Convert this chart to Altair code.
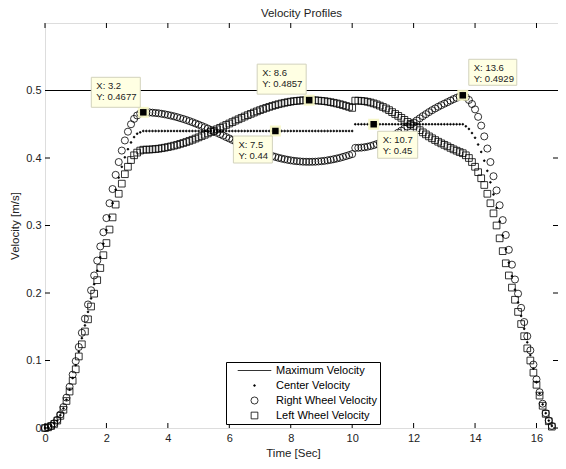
import altair as alt
import pandas as pd

# ---------------- data ----------------
# samples every 0.1 s from 0 to 16.5 s
time_s = [round(i * 0.1, 1) for i in range(166)]

# acceleration 0.0 .. 3.2 s
center_accel = [0.000, 0.001, 0.003, 0.007, 0.011, 0.019, 0.029, 0.042, 0.057, 0.074,
                0.093, 0.113, 0.133, 0.152, 0.172, 0.192, 0.213, 0.233, 0.253, 0.273,
                0.293, 0.313, 0.333, 0.353, 0.371, 0.387, 0.401, 0.413, 0.423, 0.431,
                0.436, 0.438, 0.440]
right_accel = [0.000, 0.001, 0.003, 0.007, 0.012, 0.020, 0.031, 0.045, 0.061, 0.079,
               0.099, 0.120, 0.141, 0.162, 0.183, 0.204, 0.226, 0.248, 0.269, 0.290,
               0.311, 0.333, 0.354, 0.375, 0.394, 0.411, 0.426, 0.439, 0.450, 0.458,
               0.463, 0.466, 0.4677]
left_accel = [0.000, 0.001, 0.003, 0.006, 0.011, 0.018, 0.027, 0.040, 0.054, 0.070,
              0.087, 0.106, 0.124, 0.143, 0.161, 0.180, 0.199, 0.219, 0.237, 0.256,
              0.274, 0.294, 0.312, 0.331, 0.347, 0.362, 0.376, 0.387, 0.397, 0.404,
              0.408, 0.411, 0.4123]

# first turn 3.3 .. 10.0 s
center_turn1 = [0.44, 0.44, 0.44, 0.44, 0.44, 0.44, 0.44, 0.44,
                0.44, 0.44, 0.44, 0.44, 0.44, 0.44, 0.44, 0.44, 0.44, 0.44,
                0.44, 0.44, 0.44, 0.44, 0.44, 0.44, 0.44, 0.44, 0.44, 0.44,
                0.44, 0.44, 0.44, 0.44, 0.44, 0.44, 0.44, 0.44, 0.44, 0.44,
                0.44, 0.44, 0.44, 0.44, 0.44, 0.44, 0.44, 0.44, 0.44, 0.44,
                0.44, 0.44, 0.44, 0.44, 0.44, 0.44, 0.44, 0.44, 0.44, 0.44,
                0.44, 0.44, 0.44, 0.44, 0.44, 0.44, 0.44, 0.44, 0.44, 0.44]
right_turn1 = [0.4676, 0.4675, 0.4671, 0.4667, 0.4662, 0.4655, 0.4647, 0.4638,
               0.4628, 0.4617, 0.4605, 0.4591, 0.4578, 0.4563, 0.4547, 0.4530, 0.4512, 0.4494,
               0.4475, 0.4456, 0.4436, 0.4415, 0.4395, 0.4374, 0.4353, 0.4332, 0.4310, 0.4289,
               0.4268, 0.4246, 0.4226, 0.4205, 0.4185, 0.4165, 0.4146, 0.4127, 0.4109, 0.4091,
               0.4074, 0.4058, 0.4043, 0.4029, 0.4016, 0.4003, 0.3992, 0.3982, 0.3973, 0.3965,
               0.3958, 0.3953, 0.3949, 0.3945, 0.3944, 0.3943, 0.3944, 0.3945, 0.3949, 0.3953,
               0.3958, 0.3965, 0.3973, 0.3982, 0.3992, 0.4003, 0.4016, 0.4029, 0.4043, 0.4058]
left_turn1 = [0.4124, 0.4125, 0.4129, 0.4133, 0.4138, 0.4145, 0.4153, 0.4162,
              0.4172, 0.4183, 0.4195, 0.4209, 0.4222, 0.4237, 0.4253, 0.4270, 0.4288, 0.4306,
              0.4325, 0.4344, 0.4364, 0.4385, 0.4405, 0.4426, 0.4447, 0.4468, 0.4490, 0.4511,
              0.4532, 0.4554, 0.4574, 0.4595, 0.4615, 0.4635, 0.4654, 0.4673, 0.4691, 0.4709,
              0.4726, 0.4742, 0.4757, 0.4771, 0.4784, 0.4797, 0.4808, 0.4818, 0.4827, 0.4835,
              0.4842, 0.4847, 0.4851, 0.4855, 0.4856, 0.4857, 0.4856, 0.4855, 0.4851, 0.4847,
              0.4842, 0.4835, 0.4827, 0.4818, 0.4808, 0.4797, 0.4784, 0.4771, 0.4757, 0.4742]

# second turn 10.1 .. 13.6 s
center_turn2 = [0.45, 0.45, 0.45, 0.45, 0.45, 0.45, 0.45, 0.45, 0.45, 0.45,
                0.45, 0.45, 0.45, 0.45, 0.45, 0.45, 0.45, 0.45, 0.45, 0.45,
                0.45, 0.45, 0.45, 0.45, 0.45, 0.45, 0.45, 0.45, 0.45, 0.45,
                0.45, 0.45, 0.45, 0.45, 0.45, 0.45]
right_turn2 = [0.4150, 0.4151, 0.4154, 0.4159, 0.4167, 0.4178, 0.4191, 0.4206, 0.4224, 0.4244,
               0.4266, 0.4291, 0.4320, 0.4348, 0.4376, 0.4405, 0.4435, 0.4465, 0.4495, 0.4525,
               0.4556, 0.4588, 0.4620, 0.4650, 0.4680, 0.4708, 0.4734, 0.4759, 0.4783, 0.4805,
               0.4827, 0.4850, 0.4872, 0.4892, 0.4912, 0.4929]
left_turn2 = [0.4850, 0.4849, 0.4846, 0.4841, 0.4833, 0.4822, 0.4809, 0.4794, 0.4776, 0.4756,
              0.4734, 0.4709, 0.4680, 0.4652, 0.4624, 0.4595, 0.4565, 0.4535, 0.4505, 0.4475,
              0.4444, 0.4412, 0.4380, 0.4350, 0.4320, 0.4292, 0.4266, 0.4241, 0.4217, 0.4195,
              0.4173, 0.4150, 0.4128, 0.4108, 0.4088, 0.4071]

# deceleration 13.7 .. 16.5 s
center_decel = [0.447, 0.443, 0.437, 0.430,
                0.420, 0.409, 0.396, 0.381, 0.364, 0.346, 0.326, 0.306, 0.285, 0.265,
                0.245, 0.225, 0.205, 0.186, 0.166, 0.147, 0.127, 0.108, 0.088, 0.068,
                0.051, 0.035, 0.022, 0.011, 0.003]
right_decel = [0.490, 0.486, 0.480, 0.472,
               0.461, 0.448, 0.432, 0.414, 0.394, 0.373, 0.352, 0.330, 0.308, 0.286,
               0.264, 0.242, 0.220, 0.199, 0.178, 0.157, 0.136, 0.115, 0.094, 0.072,
               0.053, 0.036, 0.022, 0.011, 0.003]
left_decel = [0.404, 0.400, 0.394, 0.387,
              0.379, 0.370, 0.360, 0.347, 0.333, 0.318, 0.300, 0.281, 0.262, 0.244,
              0.226, 0.208, 0.190, 0.172, 0.154, 0.136, 0.118, 0.100, 0.082, 0.064,
              0.048, 0.033, 0.021, 0.010, 0.002]

center_velocity = center_accel + center_turn1 + center_turn2 + center_decel
right_wheel_velocity = right_accel + right_turn1 + right_turn2 + right_decel
left_wheel_velocity = left_accel + left_turn1 + left_turn2 + left_decel
assert len(center_velocity) == len(right_wheel_velocity) == len(left_wheel_velocity) == len(time_s)

max_velocity = [0.5]

series_names = ["Maximum Velocity", "Center Velocity", "Right Wheel Velocity", "Left Wheel Velocity"]

tip_x = [3.2, 8.6, 7.5, 10.7, 13.6]
tip_y = [0.4677, 0.4857, 0.44, 0.45, 0.4929]

x_tick_values = [0, 2, 4, 6, 8, 10, 12, 14, 16]
y_tick_values = [0, 0.1, 0.2, 0.3, 0.4, 0.5]

# ---------------- layout / style ----------------
W, H = 513, 405
FONT = "Liberation Sans"
TICK = 5
# data-tip box placement relative to its marker (pixels): left, right, top, bottom
tip_boxes = [(-52, -3, -35, -5), (-52, -3, -36, -6), (-42, -3, 5, 32), (4, 44, 7, 34), (6, 54, -36, -10)]

rows = []
for name, vals in [("Center Velocity", center_velocity),
                   ("Right Wheel Velocity", right_wheel_velocity),
                   ("Left Wheel Velocity", left_wheel_velocity)]:
    for t, v in zip(time_s, vals):
        rows.append({"t": t, "v": v, "series": name})
df = pd.DataFrame(rows)

xs = alt.Scale(domain=[0, 16.7], nice=False, zero=False)
ys = alt.Scale(domain=[0, 0.6], nice=False, zero=False)

x_axis = alt.Axis(values=x_tick_values, ticks=False, domain=False, grid=False, labelFlush=False,
                  labelOverlap=False, labelPadding=4, labelFont=FONT, labelFontSize=11, labelColor="#222",
                  title="Time [Sec]", titleFont=FONT, titleFontSize=11.5, titleFontWeight="normal",
                  titleColor="#222", titleX=248, titleY=25, titleBaseline="middle", titleAlign="center")
y_axis = alt.Axis(values=y_tick_values, format=".1~f", ticks=False, domain=False, grid=False,
                  labelFlush=False, labelOverlap=False, labelPadding=4, labelFont=FONT, labelFontSize=11,
                  labelColor="#222", title="Velocity [m/s]", titleFont=FONT, titleFontSize=11.5,
                  titleFontWeight="normal", titleColor="#222", titleX=-30, titleY=H / 2,
                  titleBaseline="middle", titleAlign="center", titleAngle=270)


def X(field="t"):
    return alt.X(f"{field}:Q", scale=xs, axis=x_axis)


def Y(field="v"):
    return alt.Y(f"{field}:Q", scale=ys, axis=y_axis)


leg = alt.Legend(title=None, orient="none", legendX=181, legendY=339, direction="vertical",
                 fillColor="white", strokeColor="black", padding=3, rowPadding=3, cornerRadius=0,
                 labelFont=FONT, labelFontSize=11, labelColor="black", symbolOffset=20, labelOffset=16,
                 symbolStrokeColor="black", symbolStrokeWidth=0.8, labelLimit=300)

points = alt.Chart(df).mark_point(filled=False, opacity=1, strokeWidth=0.8).encode(
    x=X(), y=Y(),
    shape=alt.Shape("series:N", scale=alt.Scale(domain=series_names,
                                                range=["M-4.8,0L4.8,0", "circle", "circle", "square"]),
                    legend=leg),
    size=alt.Size("series:N", scale=alt.Scale(type="ordinal", domain=series_names, range=[49, 3, 50, 45]),
                  legend=leg),
    fill=alt.Fill("series:N", scale=alt.Scale(domain=series_names,
                                              range=["transparent", "black", "transparent", "transparent"]),
                  legend=leg),
    stroke=alt.Stroke("series:N", scale=alt.Scale(domain=series_names,
                                                  range=["black", "black", "black", "black"]),
                      legend=leg),
)

max_line = alt.Chart(pd.DataFrame({"v": max_velocity})).mark_rule(color="black", strokeWidth=1).encode(y=Y())

xt = pd.DataFrame({"t": x_tick_values})
yt = pd.DataFrame({"v": y_tick_values})
tick_bottom = alt.Chart(xt).mark_rule(color="black", strokeWidth=1).encode(
    x=X(), y=alt.value(H), y2=alt.value(H - TICK))
tick_top = alt.Chart(xt).mark_rule(color="black", strokeWidth=1).encode(
    x=X(), y=alt.value(0), y2=alt.value(TICK))
tick_left = alt.Chart(yt).mark_rule(color="black", strokeWidth=1).encode(
    y=Y(), x=alt.value(0), x2=alt.value(TICK))
tick_right = alt.Chart(yt).mark_rule(color="black", strokeWidth=1).encode(
    y=Y(), x=alt.value(W - TICK), x2=alt.value(W))

tips_df = pd.DataFrame({"t": tip_x, "v": tip_y,
                        "label": [f"X: {a:g}\nY: {b:g}" for a, b in zip(tip_x, tip_y)]})
tip_halo = alt.Chart(tips_df).mark_point(shape="square", filled=True, size=120, color="#f6f6c4",
                                         opacity=0.9).encode(x=X(), y=Y())
tip_marker = alt.Chart(tips_df).mark_point(shape="square", filled=True, size=42, color="black",
                                           opacity=1).encode(x=X(), y=Y())

tip_layers = []
for i, (x0, x1, y0, y1) in enumerate(tip_boxes):
    d = tips_df.iloc[[i]]
    box = alt.Chart(d).mark_rect(fill="#ffffe3", stroke="#d2d2bc", strokeWidth=1,
                                 xOffset=x0, x2Offset=x1, yOffset=y0, y2Offset=y1).encode(
        x=X(), x2=alt.X2("t"), y=Y(), y2=alt.Y2("v"))
    txt = alt.Chart(d).mark_text(align="left", baseline="top", dx=x0 + 5, dy=y0 + 4, font=FONT,
                                 fontSize=9.5, lineHeight=10.5, color="#222", lineBreak="\n").encode(
        x=X(), y=Y(), text="label:N")
    tip_layers += [box, txt]

chart = alt.layer(max_line, points, tick_bottom, tick_top, tick_left, tick_right,
                  tip_halo, tip_marker, *tip_layers).properties(
    width=W, height=H,
    padding={"left": 37, "top": 15, "right": 0, "bottom": 32},
    autosize=alt.AutoSizeParams(type="none"),
    title=alt.TitleParams("Velocity Profiles", font=FONT, fontSize=11.5, fontWeight="normal",
                          color="#222", anchor="middle", offset=3),
).configure_view(stroke="black", strokeWidth=1).configure(background="white")

chart.save("out.html", embed_options={"renderer": "svg", "actions": False})
